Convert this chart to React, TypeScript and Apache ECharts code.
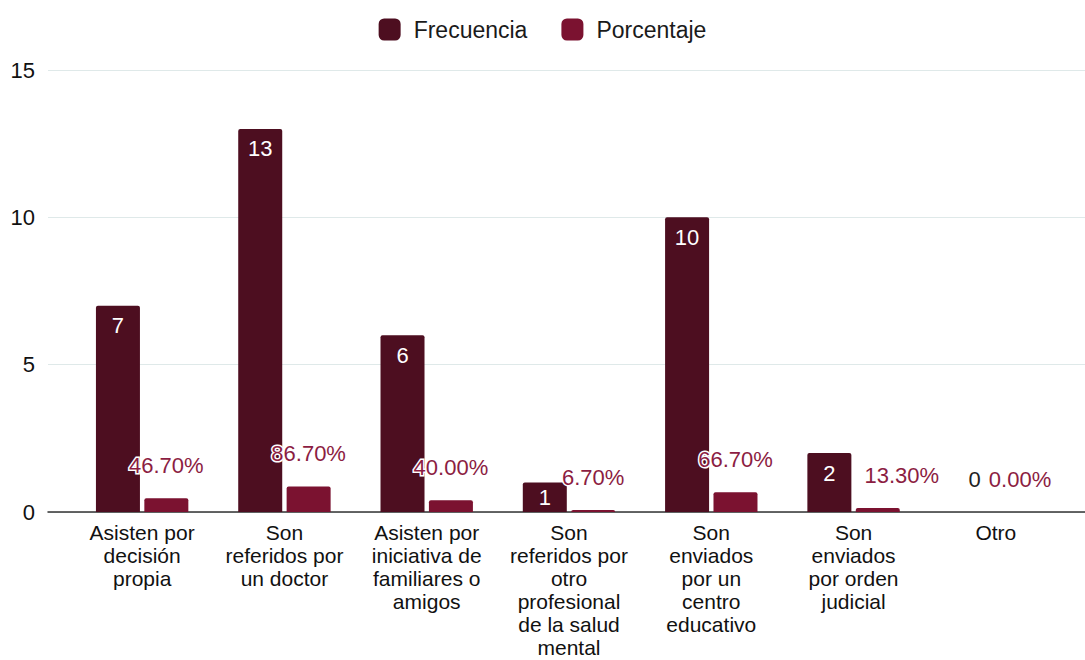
import React, { useEffect, useRef } from "react";
import * as echarts from "echarts";

const categories = [
  "Asisten por\ndecisión\npropia",
  "Son\nreferidos por\nun doctor",
  "Asisten por\niniciativa de\nfamiliares o\namigos",
  "Son\nreferidos por\notro\nprofesional\nde la salud\nmental",
  "Son\nenviados\npor un\ncentro\neducativo",
  "Son\nenviados\npor orden\njudicial",
  "Otro",
];
const frecuencia = [7, 13, 6, 1, 10, 2, 0];
const porcentaje = [0.467, 0.867, 0.4, 0.067, 0.667, 0.133, 0];
const yTicks = [0, 5, 10, 15];

const FREQ_COLOR = "#4d0e20";
const PCT_COLOR = "#7b1230";
const PCT_LABEL = "#8c1d42";

export default function App() {
  const ref = useRef<HTMLDivElement>(null);
  useEffect(() => {
    document.body.style.margin = "0";
    const chart = echarts.init(ref.current!, undefined, { renderer: "svg" });
    const yMin = yTicks[0];
    const yMax = yTicks[yTicks.length - 1];
    chart.setOption({
      animation: false,
      textStyle: { fontFamily: "Liberation Sans, Arial, sans-serif" },
      legend: {
        top: 13,
        left: "center",
        itemWidth: 22,
        itemHeight: 22,
        itemGap: 34,
        icon: "roundRect",
        textStyle: { fontSize: 23, color: "#1a1a1a", padding: [0, 0, 0, 8] },
        data: ["Frecuencia", "Porcentaje"],
      },
      grid: [
        { left: 48, right: 0, top: 70, bottom: 148 },
        { left: 71, right: 18, top: 70, bottom: 148 },
      ],
      xAxis: [
        {
          type: "value",
          gridIndex: 0,
          min: 0,
          max: 1,
          axisLine: { show: true, onZero: false, lineStyle: { color: "#333", width: 1.5 } },
          axisTick: { show: false },
          axisLabel: { show: false },
          splitLine: { show: false },
        },
        {
          type: "category",
          gridIndex: 1,
          data: categories,
          axisLine: { show: false },
          axisTick: { show: false },
          axisLabel: {
            interval: 0,
            fontSize: 21,
            lineHeight: 23,
            color: "#111",
            margin: 9,
          },
        },
      ],
      yAxis: [
        {
          type: "value",
          gridIndex: 0,
          min: yMin,
          max: yMax,
          interval: 5,
          axisLine: { show: false },
          axisTick: { show: false },
          axisLabel: { fontSize: 22, color: "#111", margin: 13 },
          splitLine: { lineStyle: { color: "#dfe9e9", width: 1 } },
        },
        {
          type: "value",
          gridIndex: 1,
          min: yMin,
          max: yMax,
          interval: 5,
          show: false,
          splitLine: { show: false },
        },
      ],
      series: [
        {
          name: "Frecuencia",
          type: "bar",
          xAxisIndex: 1,
          yAxisIndex: 1,
          barWidth: 44,
          barGap: "10%",
          itemStyle: { color: FREQ_COLOR, borderRadius: [2, 2, 0, 0] },
          label: {
            show: true,
            position: "insideTop",
            distance: 9,
            color: "#fff",
            fontSize: 22,
          },
          data: frecuencia.map((v) =>
            v === 0
              ? {
                  value: v,
                  label: {
                    position: "top",
                    distance: 22,
                    color: "#222",
                    offset: [3, 0],
                  },
                }
              : v === 1
              ? { value: v, label: { distance: 4 } }
              : v
          ),
        },
        {
          name: "Porcentaje",
          type: "bar",
          xAxisIndex: 1,
          yAxisIndex: 1,
          barWidth: 44,
          itemStyle: { color: PCT_COLOR, borderRadius: [2, 2, 0, 0] },
          label: {
            show: true,
            position: "top",
            distance: 22,
            color: PCT_LABEL,
            fontSize: 22,
            textBorderColor: "#fff",
            textBorderWidth: 3,
            formatter: (p: any) => (p.value * 100).toFixed(2) + "%",
          },
          data: porcentaje.map((v, i) =>
            i === 5 ? { value: v, label: { offset: [24, 0] } } : v
          ),
        },
      ],
    });
    return () => chart.dispose();
  }, []);
  return <div ref={ref} style={{ width: 1085, height: 660 }} />;
}
